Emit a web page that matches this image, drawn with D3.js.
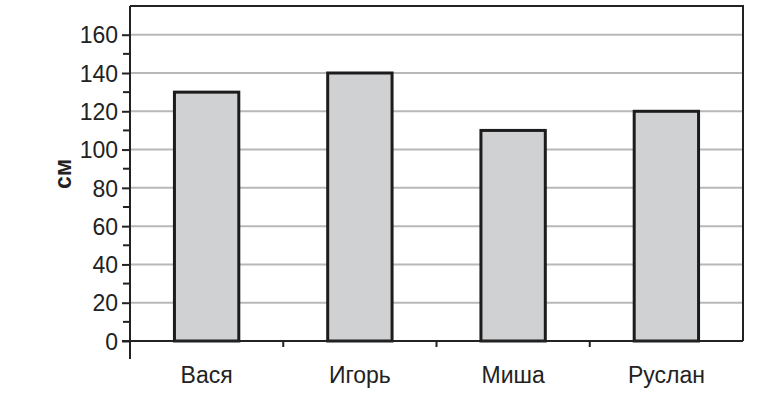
<!DOCTYPE html>
<html>
<head>
<meta charset="utf-8">
<script src="https://cdn.jsdelivr.net/npm/d3@7"></script>
<style>
  body { margin: 0; background: #fff; }
  svg text { font-family: "Liberation Sans", Arial, sans-serif; fill: #222; }
</style>
</head>
<body>
<div id="chart"></div>
<script>
var names = ["Вася", "Игорь", "Миша", "Руслан"];
var heights = [130, 140, 110, 120];
var yTicks = [0, 20, 40, 60, 80, 100, 120, 140, 160];
var yMinor = [10, 30, 50, 70, 90, 110, 130, 150];
var yLabel = "см";

var width = 764, height = 395;
var plotLeft = 130, plotRight = 743, plotTop = 6, plotBottom = 341;

var svg = d3.select("#chart").append("svg")
  .attr("width", width)
  .attr("height", height);

var x = d3.scaleBand().domain(names).range([plotLeft, plotRight]).padding(0);
var y = d3.scaleLinear().domain([0, 175]).range([plotBottom, plotTop]);

// grid
svg.append("g").attr("class", "grid")
  .selectAll("line")
  .data(yTicks.filter(function(d) { return d > 0; }))
  .enter().append("line")
  .attr("x1", plotLeft).attr("x2", plotRight)
  .attr("y1", function(d) { return y(d); })
  .attr("y2", function(d) { return y(d); })
  .attr("stroke", "#b8b8b8")
  .attr("stroke-width", 2);

// frame top + right
svg.append("path")
  .attr("d", "M" + plotLeft + "," + plotTop + "H" + plotRight + "V" + plotBottom)
  .attr("fill", "none")
  .attr("stroke", "#222")
  .attr("stroke-width", 2);

// bars
var bw = x.bandwidth();
svg.append("g").attr("class", "bars")
  .selectAll("rect")
  .data(names)
  .enter().append("rect")
  .attr("x", function(d) { return x(d) + bw * 0.29; })
  .attr("width", bw * 0.42)
  .attr("y", function(d, i) { return y(heights[i]); })
  .attr("height", function(d, i) { return y(0) - y(heights[i]); })
  .attr("fill", "#d0d1d3")
  .attr("stroke", "#1c1c1c")
  .attr("stroke-width", 3);

// y axis
var yAxis = svg.append("g")
  .attr("transform", "translate(" + plotLeft + ",0)")
  .call(d3.axisLeft(y).tickValues(yTicks).tickSize(8).tickPadding(4).tickSizeOuter(0));
yAxis.select(".domain").remove();
yAxis.selectAll(".tick line").attr("stroke", "#222").attr("stroke-width", 2);
yAxis.selectAll("text")
  .style("font-size", "23px")
  .attr("fill", "#222")
  .attr("dy", "0.36em");

svg.append("g").selectAll("line")
  .data(yMinor)
  .enter().append("line")
  .attr("x1", plotLeft - 7).attr("x2", plotLeft)
  .attr("y1", function(d) { return y(d); })
  .attr("y2", function(d) { return y(d); })
  .attr("stroke", "#222")
  .attr("stroke-width", 2);

svg.append("line")
  .attr("x1", plotLeft).attr("x2", plotLeft)
  .attr("y1", plotTop).attr("y2", 359)
  .attr("stroke", "#222").attr("stroke-width", 2);

// x axis
svg.append("line")
  .attr("x1", plotLeft - 8).attr("x2", plotRight)
  .attr("y1", plotBottom).attr("y2", plotBottom)
  .attr("stroke", "#222").attr("stroke-width", 2);

svg.append("g").selectAll("line")
  .data(names.slice(1))
  .enter().append("line")
  .attr("x1", function(d) { return x(d); })
  .attr("x2", function(d) { return x(d); })
  .attr("y1", plotBottom).attr("y2", plotBottom + 6)
  .attr("stroke", "#222").attr("stroke-width", 2);

svg.append("g").selectAll("text")
  .data(names)
  .enter().append("text")
  .attr("x", function(d) { return x(d) + bw / 2; })
  .attr("y", 383)
  .attr("text-anchor", "middle")
  .style("font-size", "23px")
  .text(function(d) { return d; });

svg.append("text")
  .attr("transform", "translate(71,174) rotate(-90)")
  .attr("text-anchor", "middle")
  .style("font-size", "23px")
  .style("font-weight", "bold")
  .text(yLabel);
</script>
</body>
</html>
